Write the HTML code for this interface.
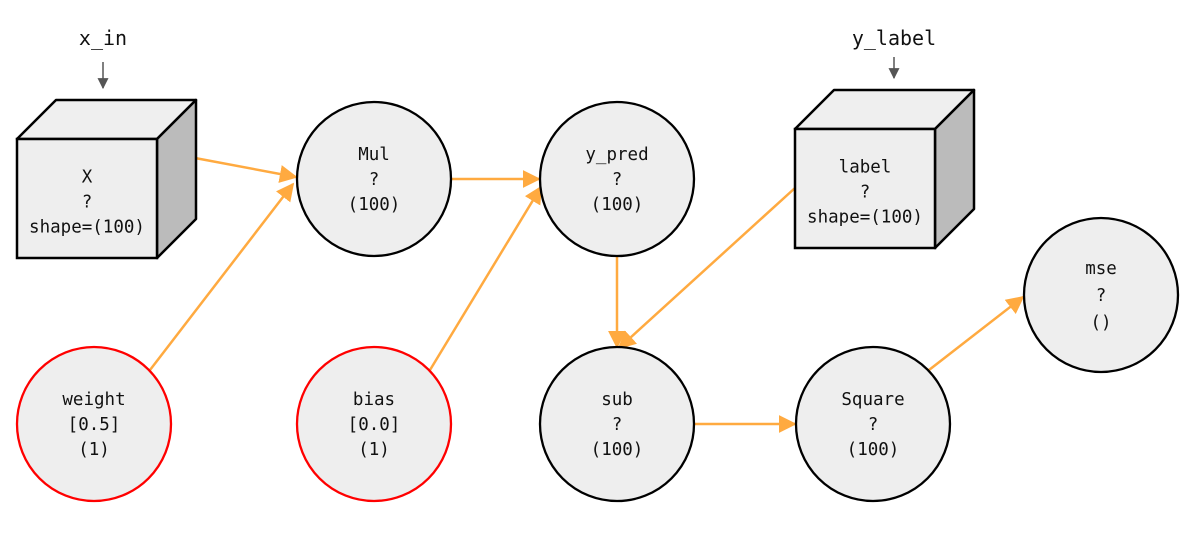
<!DOCTYPE html>
<html><head><meta charset="utf-8"><style>
html,body{margin:0;padding:0;background:#fff;width:1203px;height:536px;overflow:hidden}
svg text{font-family:"DejaVu Sans Mono","Liberation Mono",monospace;fill:#111;text-anchor:middle}
</style></head><body>
<svg id="g" width="1203" height="536" viewBox="0 0 1203 536">
<defs>
<marker id="ao" viewBox="0 0 10 10" refX="9" refY="5" markerWidth="18" markerHeight="18" markerUnits="userSpaceOnUse" orient="auto"><path d="M0,0L10,5L0,10z" fill="#ffaa40"/></marker>
<marker id="ag" viewBox="0 0 10 10" refX="9" refY="5" markerWidth="11" markerHeight="11" markerUnits="userSpaceOnUse" orient="auto"><path d="M0,0L10,5L0,10z" fill="#555"/></marker>
</defs>
</svg>
<script>
const circleNames=["Mul","y_pred","weight","bias","sub","Square","mse"];
const circleLines=[["Mul","?","(100)"],["y_pred","?","(100)"],["weight","[0.5]","(1)"],["bias","[0.0]","(1)"],["sub","?","(100)"],["Square","?","(100)"],["mse","?","()"]];
const circleCx=[374,617,94,374,617,873,1101];
const circleCy=[179,179,424,424,424,424,295];
const circleParam=[false,false,true,true,false,false,false];
const boxNames=["X","label"];
const boxLines=[["X","?","shape=(100)"],["label","?","shape=(100)"]];
const boxX=[17,795];
const boxY=[139,129];
const inputNames=["x_in","y_label"];
const inputX=[103,894];
const edges=[[[195,158],[296,177]],[[150,370],[293,184]],[[452,179],[539,179]],[[430,370],[541,187]],[[617,256],[617,347]],[[795,188],[619,348]],[[694,424],[795,424]],[[929,370],[1023,297]]];
const NS="http://www.w3.org/2000/svg";
const svg=document.getElementById('g');
function mk(t,a,p){const e=document.createElementNS(NS,t);for(const k in a)e.setAttribute(k,a[k]);(p||svg).appendChild(e);return e;}
const R=77,W=140,H=119,D=39;
edges.forEach((e,i)=>{
 const l=mk('line',{x1:e[0][0],y1:e[0][1],x2:e[1][0],y2:e[1][1],stroke:'#ffaa40','stroke-width':2.5,'marker-end':'url(#ao)'});
 
 
});
boxNames.forEach((n,i)=>{
 const g=mk('g',{});
 
 
 const x=boxX[i],y=boxY[i];
 mk('polygon',{points:`${x},${y} ${x+D},${y-D} ${x+W+D},${y-D} ${x+W},${y}`,fill:'#efefef',stroke:'#000','stroke-width':2.5,'stroke-linejoin':'round'},g);
 mk('polygon',{points:`${x+W},${y} ${x+W+D},${y-D} ${x+W+D},${y+H-D} ${x+W},${y+H}`,fill:'#bbb',stroke:'#000','stroke-width':2.5,'stroke-linejoin':'round'},g);
 mk('rect',{x:x,y:y,width:W,height:H,fill:'#eee',stroke:'#000','stroke-width':2.5},g);
 boxLines[i].forEach((t,j)=>{const tx=mk('text',{x:x+W/2,y:y+H/2-22+j*25+6,'font-size':17.5},g);tx.textContent=t;});
 const lb=mk('text',{x:inputX[i],y:45,'font-size':20});
 lb.textContent=inputNames[i];
 
 
 const ar=mk('line',{x1:inputX[i],y1:i?57:62,x2:inputX[i],y2:y-D-12,stroke:'#555','stroke-width':1.5,'marker-end':'url(#ag)'});
 
 
});
circleNames.forEach((n,i)=>{
 const g=mk('g',{});
 
 
 mk('circle',{cx:circleCx[i],cy:circleCy[i],r:R,fill:'#eee',stroke:circleParam[i]?'#f00':'#000','stroke-width':2.3},g);
 circleLines[i].forEach((t,j)=>{const tx=mk('text',{x:circleCx[i],y:circleCy[i]-19+j*25+(i==6?j*2-2:0),'font-size':17.5},g);tx.textContent=t;});
});
</script>
</body></html>
